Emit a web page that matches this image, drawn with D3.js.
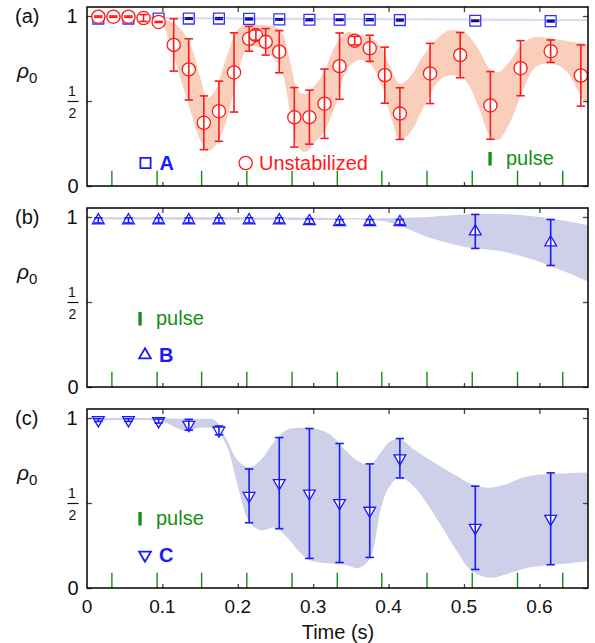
<!DOCTYPE html>
<html>
<head>
<meta charset="utf-8">
<script src="https://cdn.jsdelivr.net/npm/d3@7"></script>
<style>
  body { margin: 0; background: #fff; }
  svg { display: block; font-family: "Liberation Sans", Arial, sans-serif; }
</style>
</head>
<body>
<div id="chart"></div>
<script>
// ---- data ----
// stabilized runs A, B, C share the same sample times
let stabTimes = [0.015, 0.055, 0.095, 0.135, 0.175, 0.215, 0.255, 0.295, 0.335, 0.375, 0.415, 0.515, 0.615];
let valA = [0.985, 0.985, 0.985, 0.985, 0.985, 0.983, 0.98, 0.978, 0.978, 0.978, 0.976, 0.972, 0.97];
let errA = [0.005, 0.005, 0.005, 0.004, 0.005, 0.005, 0.004, 0.005, 0.004, 0.005, 0.005, 0.004, 0.005];
let valB = [0.98, 0.98, 0.98, 0.98, 0.98, 0.98, 0.98, 0.975, 0.97, 0.97, 0.97, 0.915, 0.85];
let errB = [0.015, 0.015, 0.015, 0.015, 0.015, 0.015, 0.015, 0.015, 0.015, 0.015, 0.015, 0.1, 0.135];
let valC = [0.988, 0.988, 0.982, 0.96, 0.927, 0.542, 0.617, 0.556, 0.5, 0.455, 0.763, 0.354, 0.407];
let errC = [0.008, 0.008, 0.012, 0.032, 0.026, 0.158, 0.268, 0.382, 0.35, 0.275, 0.116, 0.245, 0.27];

// unstabilized run
let redTimes = [0.015, 0.035, 0.055, 0.075, 0.095, 0.115, 0.135, 0.155, 0.175, 0.195, 0.215, 0.224, 0.237, 0.255,
  0.275, 0.295, 0.315, 0.335, 0.355, 0.375, 0.395, 0.415, 0.455, 0.495, 0.535, 0.575, 0.615, 0.655];
let valRed = [0.996, 0.996, 0.996, 0.988, 0.965, 0.83, 0.686, 0.372, 0.44, 0.668, 0.866, 0.888, 0.848, 0.79,
  0.404, 0.405, 0.484, 0.705, 0.855, 0.81, 0.652, 0.426, 0.662, 0.77, 0.474, 0.693, 0.793, 0.65];
let errRed = [0.004, 0.004, 0.004, 0.02, 0.003, 0.154, 0.18, 0.158, 0.177, 0.233, 0.073, 0.03, 0.078, 0.124,
  0.175, 0.159, 0.204, 0.195, 0.025, 0.077, 0.165, 0.152, 0.177, 0.133, 0.199, 0.162, 0.066, 0.18];

// shaded simulation bands
let bandRedTimes = [0.015, 0.09, 0.10, 0.11, 0.123, 0.137, 0.15, 0.16, 0.17, 0.18, 0.19, 0.20, 0.21, 0.22, 0.235,
  0.25, 0.26, 0.27, 0.28, 0.29, 0.30, 0.313, 0.33, 0.345, 0.36, 0.375, 0.39, 0.405, 0.415, 0.428, 0.445, 0.465,
  0.48, 0.50, 0.518, 0.535, 0.545, 0.56, 0.578, 0.595, 0.615, 0.635, 0.655, 0.665];
let bandRedHi = [1.0, 1.0, 0.98, 0.97, 0.93, 0.835, 0.64, 0.52, 0.56, 0.69, 0.82, 0.92, 0.95, 0.95, 0.945,
  0.935, 0.89, 0.72, 0.56, 0.54, 0.58, 0.66, 0.83, 0.905, 0.89, 0.875, 0.82, 0.67, 0.60, 0.64, 0.76, 0.87,
  0.915, 0.905, 0.815, 0.685, 0.67, 0.73, 0.84, 0.875, 0.868, 0.855, 0.84, 0.835];
let bandRedLo = [0.98, 0.975, 0.95, 0.84, 0.645, 0.445, 0.27, 0.205, 0.235, 0.32, 0.47, 0.66, 0.79, 0.82, 0.80,
  0.74, 0.65, 0.42, 0.23, 0.20, 0.25, 0.31, 0.48, 0.685, 0.74, 0.72, 0.60, 0.38, 0.27, 0.31, 0.45, 0.61,
  0.65, 0.63, 0.48, 0.29, 0.27, 0.365, 0.56, 0.70, 0.72, 0.68, 0.53, 0.47];

let bandATimes = [0.015, 0.3, 0.665];
let bandALo = [0.982, 0.976, 0.968];
let bandAHi = [0.996, 0.99, 0.982];

let bandBTimes = [0.015, 0.3, 0.39, 0.42, 0.45, 0.5, 0.55, 0.6, 0.665];
let bandBLo = [0.985, 0.982, 0.978, 0.94, 0.885, 0.825, 0.798, 0.737, 0.62];
let bandBHi = [0.998, 0.996, 0.992, 0.995, 1.0, 1.015, 1.018, 1.0, 0.953];

let bandCTimes = [0.015, 0.09, 0.105, 0.13, 0.15, 0.17, 0.185, 0.2, 0.215, 0.23, 0.25, 0.265, 0.28, 0.295, 0.32,
  0.345, 0.36, 0.375, 0.39, 0.4, 0.415, 0.435, 0.465, 0.49, 0.51, 0.535, 0.555, 0.58, 0.615, 0.665];
let bandCHi = [1.0, 1.0, 0.997, 0.996, 0.995, 0.985, 0.875, 0.75, 0.71, 0.75, 0.87, 0.93, 0.942, 0.943, 0.91,
  0.8, 0.745, 0.725, 0.8, 0.855, 0.875, 0.81, 0.725, 0.66, 0.61, 0.59, 0.61, 0.652, 0.67, 0.68];
let bandCLo = [0.985, 0.985, 0.97, 0.925, 0.943, 0.934, 0.84, 0.6, 0.39, 0.34, 0.355, 0.3, 0.22, 0.165, 0.145,
  0.134, 0.117, 0.17, 0.47, 0.59, 0.65, 0.59, 0.4, 0.22, 0.1, 0.06, 0.08, 0.115, 0.135, 0.158];

// pulse times (green marks)
let pulseTimes = [0.033, 0.093, 0.152, 0.212, 0.272, 0.332, 0.391, 0.451, 0.511, 0.571, 0.631];
let pulseHeight = 0.09;

let xTicks = [0, 0.1, 0.2, 0.3, 0.4, 0.5, 0.6];
let yTicks = [0, 0.5, 1];

// ---- layout ----
let width = 595, height = 643;
let plotLeft = 87, plotRight = 588;
let panelTops = [7, 208, 409];
let panelH = 179;

let blue = "#1a1aff", red = "#ff1a1a", green = "#138f13";
let salmon = "#f9cfbb", lavender = "#cdd0e8";

let svg = d3.select("#chart").append("svg")
  .attr("width", width)
  .attr("height", height);

let x = d3.scaleLinear().domain([0, 0.6645]).range([plotLeft, plotRight]);
let y = d3.scaleLinear().domain([0, 1]).range([panelH, 9]); // same in every panel

function zipBand(ts, lo, hi) {
  return ts.map((t, i) => ({ t: t, lo: lo[i], hi: hi[i] }));
}
function zipPts(ts, v, e) {
  return ts.map((t, i) => ({ t: t, v: v[i], e: e[i] }));
}

let area = d3.area()
  .x(d => x(d.t))
  .y0(d => y(d.lo))
  .y1(d => y(d.hi))
  .curve(d3.curveCatmullRom.alpha(0.5));

// one panel: bands, pulses, error bars, markers, frame, ticks
function drawPanel(idx, opts) {
  let g = svg.append("g").attr("transform", `translate(0,${panelTops[idx]})`);

  g.append("clipPath").attr("id", "clip" + idx)
    .append("rect").attr("x", plotLeft).attr("y", 0)
    .attr("width", plotRight - plotLeft).attr("height", panelH);

  let inner = g.append("g").attr("clip-path", `url(#clip${idx})`);

  opts.bands.forEach(b => {
    inner.append("path").datum(b.data)
      .attr("d", area)
      .attr("fill", b.color);
  });

  // pulses
  inner.selectAll(".pulse").data(pulseTimes).enter().append("line")
    .attr("x1", d => x(d)).attr("x2", d => x(d))
    .attr("y1", y(0)).attr("y2", y(pulseHeight))
    .attr("stroke", green).attr("stroke-width", 1.4);

  // series
  opts.series.forEach(s => {
    let pts = s.data;
    let mk = inner.append("g");
    if (s.shape === "circle") {
      mk.selectAll("circle").data(pts).enter().append("circle")
        .attr("cx", d => x(d.t)).attr("cy", d => y(d.v)).attr("r", 6.6)
        .attr("fill", "#fff").attr("stroke", s.color).attr("stroke-width", 1.3);
    } else {
      let sym = d3.symbol().type(s.shape === "square" ? d3.symbolSquare : d3.symbolTriangle)
        .size(s.shape === "square" ? 118 : 60);
      mk.selectAll("path").data(pts).enter().append("path")
        .attr("d", sym)
        .attr("transform", d => `translate(${x(d.t)},${y(d.v)})` + (s.shape === "down" ? " rotate(180)" : ""))
        .attr("fill", "#fff").attr("stroke", s.color).attr("stroke-width", 1.3);
    }

    // error bars on top of markers
    let eb = inner.append("g").attr("stroke", s.barColor).attr("stroke-width", 1.6);
    pts.forEach(d => {
      let cx = x(d.t);
      eb.append("line").attr("x1", cx).attr("x2", cx)
        .attr("y1", y(d.v - d.e)).attr("y2", y(d.v + d.e));
      [d.v - d.e, d.v + d.e].forEach(v => {
        eb.append("line").attr("x1", cx - 4.2).attr("x2", cx + 4.2)
          .attr("y1", y(v)).attr("y2", y(v));
      });
    });
  });

  // ticks (inside the frame)
  let tickCol = "#444";
  let top = g.append("g").call(d3.axisTop(x).tickValues(xTicks.slice(1)).tickSize(-5).tickFormat(""));
  let bot = g.append("g").attr("transform", `translate(0,${panelH})`)
    .call(d3.axisBottom(x).tickValues(xTicks.slice(1)).tickSize(-4).tickFormat(""));
  let lft = g.append("g").attr("transform", `translate(${plotLeft},0)`)
    .call(d3.axisLeft(y).tickValues(yTicks).tickSize(-5).tickFormat(""));
  let rgt = g.append("g").attr("transform", `translate(${plotRight},0)`)
    .call(d3.axisRight(y).tickValues(yTicks).tickSize(-5).tickFormat(""));
  [top, bot, lft, rgt].forEach(a => {
    a.select(".domain").remove();
    a.selectAll(".tick line").attr("stroke", tickCol).attr("stroke-width", 1.3);
  });

  if (idx === 2) {
    // x tick labels incl. 0
    g.selectAll(".xlab").data(xTicks).enter().append("text")
      .attr("x", d => x(d)).attr("y", panelH + 25)
      .attr("text-anchor", "middle").attr("font-size", 19).attr("fill", "#111")
      .text(d => d === 0 ? "0" : d3.format(".1f")(d));
    g.append("text")
      .attr("x", 338).attr("y", panelH + 51)
      .attr("text-anchor", "middle").attr("font-size", 20).attr("fill", "#111")
      .text("Time (s)");
  }

  // frame
  g.append("rect")
    .attr("x", plotLeft).attr("y", 0)
    .attr("width", plotRight - plotLeft).attr("height", panelH)
    .attr("fill", "none").attr("stroke", "#000").attr("stroke-width", 1.5);

  // y labels: 1, 1/2, 0
  g.append("text").attr("x", 72).attr("y", y(1) + 7)
    .attr("text-anchor", "middle").attr("font-size", 20).attr("fill", "#111").text("1");
  g.append("text").attr("x", 73).attr("y", y(0) + 7)
    .attr("text-anchor", "middle").attr("font-size", 20).attr("fill", "#111").text("0");
  let fr = g.append("g").attr("fill", "#111").attr("font-size", 14).attr("text-anchor", "middle");
  fr.append("text").attr("x", 72).attr("y", y(0.5) - 5).text("1");
  fr.append("line").attr("x1", 67.5).attr("x2", 78.5)
    .attr("y1", y(0.5) + 0.5).attr("y2", y(0.5) + 0.5)
    .attr("stroke", "#111").attr("stroke-width", 1.2);
  fr.append("text").attr("x", 72.5).attr("y", y(0.5) + 17).text("2");

  // rho_0
  let rho = g.append("text").attr("x", 17).attr("y", 71).attr("font-size", 21).attr("fill", "#111");
  rho.append("tspan").attr("font-style", "italic").text("ρ");
  rho.append("tspan").attr("font-size", 15).attr("dy", 5).text("0");

  // panel letter
  g.append("text").attr("x", 15).attr("y", 16).attr("font-size", 20).attr("fill", "#111")
    .text(opts.letter);

  return g;
}

// legend helpers
function pulseLegend(g, px, py) {
  g.append("rect").attr("x", px - 1.6).attr("y", py - 13).attr("width", 3.3).attr("height", 13.5).attr("fill", green);
  g.append("text").attr("x", px + 16).attr("y", py).attr("font-size", 20).attr("fill", green).text("pulse");
}
function symLegend(g, px, py, type, color, label, rotate) {
  g.append("path")
    .attr("d", d3.symbol().type(type).size(type === d3.symbolSquare ? 105 : 60))
    .attr("transform", `translate(${px},${py})` + (rotate ? " rotate(180)" : ""))
    .attr("fill", "#fff").attr("stroke", color).attr("stroke-width", 1.8);
  g.append("text").attr("x", px + 14).attr("y", py + 7)
    .attr("font-size", 20).attr("font-weight", "bold").attr("fill", color).text(label);
}

// panel (a)
let ga = drawPanel(0, {
  letter: "(a)",
  bands: [
    { data: zipBand(bandATimes, bandALo, bandAHi), color: "#dcdcf0" },
    { data: zipBand(bandRedTimes, bandRedLo, bandRedHi), color: salmon }
  ],
  series: [
    { data: zipPts(stabTimes, valA, errA), shape: "square", color: "#3333ff", barColor: "#0000b0" },
    { data: zipPts(redTimes, valRed, errRed), shape: "circle", color: red, barColor: red }
  ]
});
symLegend(ga, 145.5, 156, d3.symbolSquare, blue, "A", false);
ga.append("circle").attr("cx", 245.7).attr("cy", 156).attr("r", 6.6)
  .attr("fill", "#fff").attr("stroke", red).attr("stroke-width", 1.3);
ga.append("text").attr("x", 259).attr("y", 163).attr("font-size", 20).attr("fill", red).text("Unstabilized");
pulseLegend(ga, 490, 158);

// panel (b)
let gb = drawPanel(1, {
  letter: "(b)",
  bands: [{ data: zipBand(bandBTimes, bandBLo, bandBHi), color: lavender }],
  series: [{ data: zipPts(stabTimes, valB, errB), shape: "up", color: blue, barColor: blue }]
});
pulseLegend(gb, 140, 117);
symLegend(gb, 145, 147, d3.symbolTriangle, blue, "B", false);

// panel (c)
let gc = drawPanel(2, {
  letter: "(c)",
  bands: [{ data: zipBand(bandCTimes, bandCLo, bandCHi), color: lavender }],
  series: [{ data: zipPts(stabTimes, valC, errC), shape: "down", color: blue, barColor: blue }]
});
pulseLegend(gc, 140, 116);
symLegend(gc, 145, 146, d3.symbolTriangle, blue, "C", true);
</script>
</body>
</html>
